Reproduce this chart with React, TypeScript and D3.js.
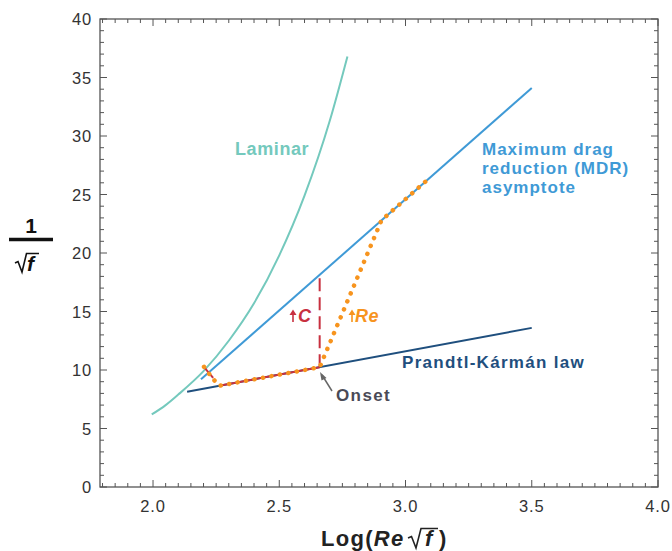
import React from 'react';
import * as d3 from 'd3';

// curves (x = Log(Re sqrt f), y = 1/sqrt f)
const laminarX = [1.995, 2.05, 2.1, 2.2, 2.3, 2.4, 2.5, 2.6, 2.7, 2.77];
const laminarY = [6.2, 7.0, 7.9, 9.9, 12.5, 15.7, 19.8, 24.9, 31.3, 36.8];
const mdrX = [2.19, 3.5];
const mdrY = [9.2, 34.1];
const pkX = [2.135, 3.5];
const pkY = [8.15, 13.6];
const cX = [2.66, 2.66];
const cY = [10.24, 18.1];
const redTickX = [2.198, 2.238];
const redTickY = [10.36, 9.33];
const redPkX = [2.262, 2.66];
const redPkY = [8.65, 10.24];
const reX = [2.202, 2.234, 2.262, 2.66, 2.905, 3.1];
const reY = [10.27, 9.33, 8.65, 10.24, 22.8, 26.5];

const xTicks = ['2.0', '2.5', '3.0', '3.5', '4.0'];
const yTicks = ['0', '5', '10', '15', '20', '25', '30', '35', '40'];

const FONT = '"Liberation Sans", Arial, Helvetica, sans-serif';

const zip = (xs: number[], ys: number[]): [number, number][] => xs.map((x, i) => [x, ys[i]]);

export default function App() {
  const left = 100, right = 658, top = 19, bottom = 487;
  const x = d3.scaleLinear().domain([1.79, 4.0]).range([left, right]);
  const y = d3.scaleLinear().domain([0, 40]).range([bottom, top]);

  const line = d3.line<[number, number]>().x(d => x(d[0])).y(d => y(d[1]));
  const smooth = d3.line<[number, number]>().x(d => x(d[0])).y(d => y(d[1])).curve(d3.curveMonotoneX);

  const xMinor = d3.range(36, 81).map(i => i * 0.05);
  const yMinor = d3.range(0, 41);
  const axisCol = '#555';

  return (
    <svg width={672} height={551} style={{ position: 'absolute', left: 0, top: 0, background: '#fff' }}
      fontFamily={FONT}>
      {/* frame */}
      <rect x={left} y={top} width={right - left} height={bottom - top} fill="none" stroke={axisCol} strokeWidth={1.3} />
      {xMinor.map(v => {
        const major = Math.abs(v * 2 - Math.round(v * 2)) < 1e-6;
        const len = major ? 7 : 4;
        return (
          <g key={'xt' + v}>
            <line x1={x(v)} x2={x(v)} y1={bottom} y2={bottom - len} stroke={axisCol} strokeWidth={1} />
            <line x1={x(v)} x2={x(v)} y1={top} y2={top + len} stroke={axisCol} strokeWidth={1} />
          </g>
        );
      })}
      {yMinor.map(v => {
        const len = v % 5 === 0 ? 7 : 4;
        return (
          <g key={'yt' + v}>
            <line x1={left} x2={left + len} y1={y(v)} y2={y(v)} stroke={axisCol} strokeWidth={1} />
            <line x1={right} x2={right - len} y1={y(v)} y2={y(v)} stroke={axisCol} strokeWidth={1} />
          </g>
        );
      })}
      {xTicks.map(t => (
        <text key={'xl' + t} x={x(+t)} y={512} textAnchor="middle" fontSize={16.5} letterSpacing={0.8} fill="#333">{t}</text>
      ))}
      {yTicks.map(t => (
        <text key={'yl' + t} x={92} y={y(+t) + 6} textAnchor="end" fontSize={16.5} letterSpacing={0.8} fill="#333">{t}</text>
      ))}

      {/* curves */}
      <path d={smooth(zip(laminarX, laminarY)) || ''} fill="none" stroke="#74c9bd" strokeWidth={2} />
      <path d={line(zip(mdrX, mdrY)) || ''} fill="none" stroke="#3f9ad6" strokeWidth={2} />
      <path d={line(zip(pkX, pkY)) || ''} fill="none" stroke="#1f4f7e" strokeWidth={2} />
      <path d={line(zip(cX, cY)) || ''} fill="none" stroke="#c8303f" strokeWidth={2} strokeDasharray="13 6" />
      <path d={line(zip(redTickX, redTickY)) || ''} fill="none" stroke="#c8303f" strokeWidth={2} />
      <path d={line(zip(redPkX, redPkY)) || ''} fill="none" stroke="#c8303f" strokeWidth={2} />
      <path d={line(zip(reX, reY)) || ''} fill="none" stroke="#f7941e" strokeWidth={4.5}
        strokeLinecap="round" strokeDasharray="0.1 8.5" />

      {/* labels */}
      <text x={235} y={155} fontSize={18} fontWeight="bold" fill="#74c9bd" letterSpacing={0.6}>Laminar</text>
      <text fontSize={17} fontWeight="bold" fill="#3f9ad6" letterSpacing={1}>
        <tspan x={482} y={155}>Maximum drag</tspan>
        <tspan x={482} y={174}>reduction (MDR)</tspan>
        <tspan x={482} y={193}>asymptote</tspan>
      </text>
      <text x={402} y={368} fontSize={17} fontWeight="bold" fill="#1f4f7e" letterSpacing={1.3}>Prandtl-Kármán law</text>
      <text x={336} y={401} fontSize={17} fontWeight="bold" fill="#4a4a56" letterSpacing={1.4}>Onset</text>
      <line x1={332} y1={391} x2={322} y2={375} stroke="#666" strokeWidth={1.5} />
      <path d="M320,372 L326.5,378 L321.5,380.5 Z" fill="#666" />

      {/* C and Re arrows */}
      <line x1={293} y1={322} x2={293} y2={313} stroke="#c8303f" strokeWidth={1.6} />
      <path d="M293,309.5 L296.5,315 L289.5,315 Z" fill="#c8303f" />
      <text x={298} y={322} fontSize={18} fontWeight="bold" fontStyle="italic" fill="#c8303f">C</text>
      <line x1={352} y1={322} x2={352} y2={313} stroke="#f7941e" strokeWidth={1.6} />
      <path d="M352,309.5 L355.5,315 L348.5,315 Z" fill="#f7941e" />
      <text x={355} y={322} fontSize={18} fontWeight="bold" fontStyle="italic" fill="#f7941e" letterSpacing={0.5}>Re</text>

      {/* y axis label */}
      <text x={31} y={233} textAnchor="middle" fontSize={21} fontWeight="bold" fill="#111">1</text>
      <line x1={9} x2={53} y1={239.5} y2={239.5} stroke="#111" strokeWidth={3.5} />
      <path d="M15,263 L18,261.5 L22,272 L26.5,253.5 L39,253.5" fill="none" stroke="#111" strokeWidth={1.6} />
      <text x={27} y={271} fontSize={21} fontWeight="bold" fontStyle="italic" fill="#111">f</text>

      {/* x axis label */}
      <text x={321} y={546} fontSize={22} fontWeight="bold" fill="#222" letterSpacing={1.3}>
        Log(<tspan fontStyle="italic">Re</tspan>
      </text>
      <path d="M408,538 L411.5,536.5 L416,548 L421,528.5 L438,528.5" fill="none" stroke="#222" strokeWidth={1.6} />
      <text x={425} y={546} fontSize={22} fontWeight="bold" fontStyle="italic" fill="#222">f</text>
      <text x={439} y={546} fontSize={22} fontWeight="bold" fill="#222">)</text>
    </svg>
  );
}
